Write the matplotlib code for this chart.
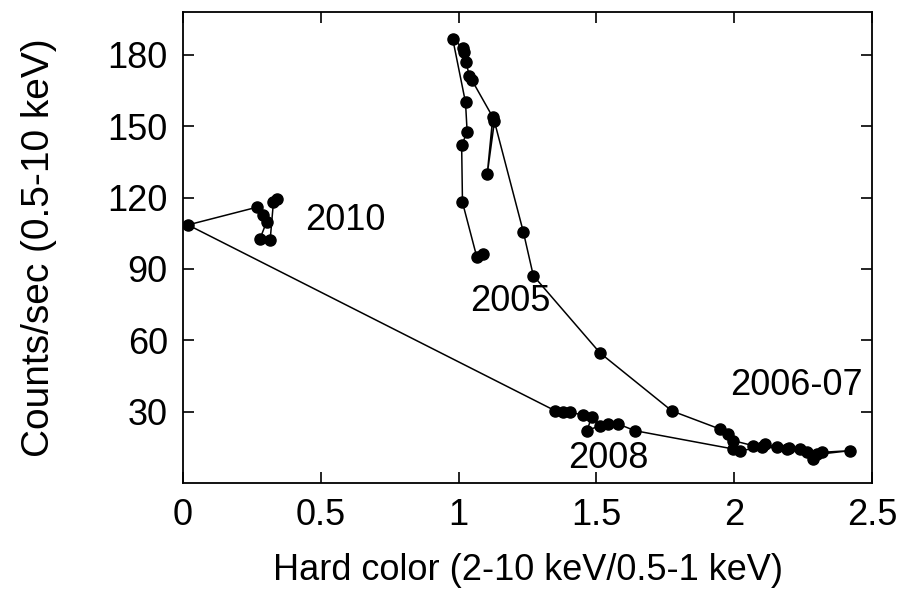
import matplotlib
matplotlib.use("Agg")
import matplotlib.pyplot as plt

plt.rcParams['font.family'] = ['Liberation Sans', 'DejaVu Sans']

# hardness ratio and count rate, in time order (2005 -> 2006-07 -> 2008 -> 2010)
hard_color = [1.09, 1.066, 1.014, 1.011, 1.031, 1.025, 0.979, 1.017, 1.02, 1.027,
              1.039, 1.047, 1.124, 1.104, 1.13, 1.235, 1.271, 1.513, 1.774,
              1.948, 1.979, 1.997, 2.069, 2.112, 2.154, 2.19, 2.239, 2.263, 2.287,
              2.317, 2.42, 2.30, 2.2, 2.1, 2.021, 1.997,
              1.64, 1.579, 1.543, 1.513, 1.465, 1.483, 1.453, 1.404, 1.38, 1.35,
              0.018, 0.27, 0.291, 0.303, 0.279, 0.316, 0.328, 0.34]
counts = [96.3, 95, 118, 142, 147.5, 160, 186.5, 182.9, 181, 177,
          171, 169.6, 153.8, 130, 152, 105.5, 87.2, 54.7, 30.3,
          22.7, 20.6, 17.8, 15.7, 16.4, 15, 14.3, 14.3, 12.9, 10.1,
          12.9, 13.6, 12, 14.8, 15, 13.6, 14.3,
          22, 24.8, 24.8, 24.1, 22, 27.6, 28.6, 29.7, 29.7, 30.4,
          108.5, 116, 112.5, 109.7, 102.6, 102, 118, 119.2]

labels = ["2010", "2005", "2006-07", "2008"]
label_x = [0.443, 1.041, 1.985, 1.397]
label_y = [110.2, 76.1, 40.8, 10.1]

fig = plt.figure(figsize=(9.07, 5.91), dpi=100)
ax = fig.add_axes([0.2018, 0.1827, 0.7596, 0.797])

ax.plot(hard_color, counts, '-', color='black', lw=1.1,
        marker='o', markersize=8, markerfacecolor='black', markeredgecolor='black')

for t, x, y in zip(labels, label_x, label_y):
    ax.text(x, y, t, fontsize=26, va='center', ha='left')

ax.set_xlim(0, 2.5)
ax.set_ylim(0, 198)
ax.set_xticks([0, 0.5, 1, 1.5, 2, 2.5])
ax.set_xticklabels(['0', '0.5', '1', '1.5', '2', '2.5'])
ax.set_yticks([30, 60, 90, 120, 150, 180])
ax.tick_params(direction='in', length=8, width=1.2, labelsize=26,
               top=True, right=True, pad=11)
for s in ax.spines.values():
    s.set_linewidth(1.3)

ax.set_xlabel('Hard color (2-10 keV/0.5-1 keV)', fontsize=26, labelpad=14)
ax.set_ylabel('Counts/sec (0.5-10 keV)', fontsize=28, labelpad=36)

fig.savefig('out.png', dpi=100)
